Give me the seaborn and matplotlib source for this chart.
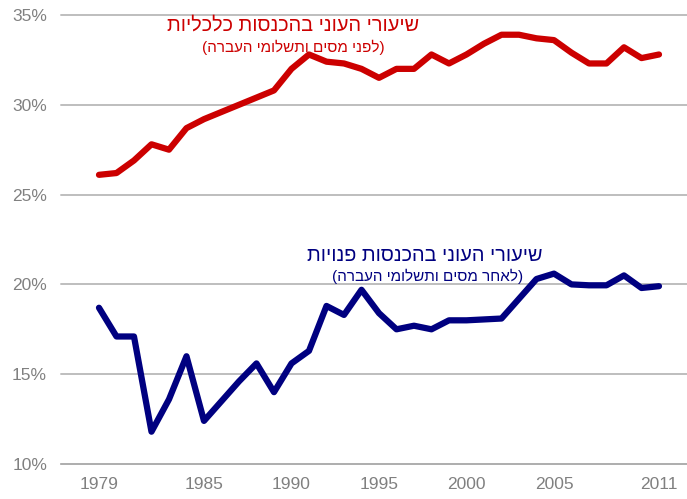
import pandas as pd
import matplotlib
matplotlib.use("Agg")
import matplotlib.pyplot as plt
import seaborn as sns

years = list(range(1979, 2012))
gross_rate = [26.1, 26.2, 26.9, 27.8, 27.5, 28.7, 29.2, 29.6, 30.0, 30.4, 30.8,
              32.0, 32.8, 32.4, 32.3, 32.0, 31.5, 32.0, 32.0, 32.8, 32.3,
              32.8, 33.4, 33.9, 33.9, 33.7, 33.6, 32.9, 32.3, 32.3, 33.2, 32.6, 32.8]
net_rate = [18.7, 17.1, 17.1, 11.8, 13.6, 16.0, 12.4, 13.5, 14.6, 15.6, 14.0,
            15.6, 16.3, 18.8, 18.3, 19.7, 18.4, 17.5, 17.7, 17.5, 18.0,
            18.0, 18.05, 18.1, 19.2, 20.3, 20.6, 20.0, 19.95, 19.95, 20.5, 19.8, 19.9]
x_ticks = [1979, 1985, 1990, 1995, 2000, 2005, 2011]
y_ticks = [10, 15, 20, 25, 30, 35]

gross_title = "שיעורי העוני בהכנסות כלכליות"
gross_sub = "לפני מסים ותשלומי העברה"
net_title = "שיעורי העוני בהכנסות פנויות"
net_sub = "לאחר מסים ותשלומי העברה"


def visual(s, parens=False):
    # matplotlib has no bidi support, so lay Hebrew out right-to-left by hand
    s = s[::-1]
    return "(" + s + ")" if parens else s


df = pd.DataFrame({"year": years, "gross": gross_rate, "net": net_rate})

sns.set_style("white")
plt.rcParams["font.family"] = ["Liberation Sans", "DejaVu Sans"]

fig = plt.figure(figsize=(6.87, 4.99), dpi=100)
ax = fig.add_axes([0.0888, 0.0701, 0.9112, 0.8999])

sns.lineplot(data=df, x="year", y="gross", color="#CC0000", linewidth=4.5, ax=ax)
sns.lineplot(data=df, x="year", y="net", color="#000080", linewidth=4.5, ax=ax)

ax.set_xlim(1976.83, 2012.6)
ax.set_ylim(10, 35)
ax.set_xticks(x_ticks)
ax.set_yticks(y_ticks)
ax.set_yticklabels([f"{v}%" for v in y_ticks])
ax.set_xlabel("")
ax.set_ylabel("")

for v in y_ticks[1:]:
    ax.axhline(v, color="#BEBEBE", linewidth=1.4, zorder=0, clip_on=False)

for side in ["top", "right", "left"]:
    ax.spines[side].set_visible(False)
ax.spines["bottom"].set_color("#A0A0A0")
ax.spines["bottom"].set_linewidth(1.2)
ax.tick_params(axis="x", colors="#A0A0A0", length=4, width=1, direction="out",
               labelcolor="#808080", labelsize=12.5, pad=5)
ax.tick_params(axis="y", length=0, labelcolor="#808080", labelsize=12.5, pad=10)

ax.text(1990.1, 34.45, visual(gross_title), color="#CC0000", fontsize=14.3,
        ha="center", va="center")
ax.text(1990.1, 33.2, visual(gross_sub, True), color="#CC0000", fontsize=11,
        ha="center", va="center")
ax.text(1997.6, 21.6, visual(net_title), color="#000080", fontsize=14.3,
        ha="center", va="center")
ax.text(1997.8, 20.45, visual(net_sub, True), color="#000080", fontsize=11,
        ha="center", va="center")

fig.savefig("out.png", dpi=100)
